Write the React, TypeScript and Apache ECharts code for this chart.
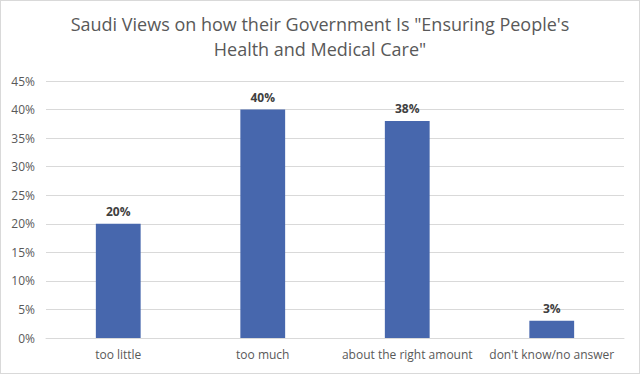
import React, { useEffect, useRef } from "react";
import * as echarts from "echarts";

const categories = ["too little", "too much", "about the right amount", "don't know/no answer"];
const values = [20, 40, 38, 3];
const titleLines = ["Saudi Views on how their Government Is \"Ensuring People's", "Health and Medical Care\""];

export default function App() {
  const ref = useRef<HTMLDivElement>(null);
  useEffect(() => {
    document.body.style.margin = "0";
    const chart = echarts.init(ref.current!, null, { renderer: "svg" });
    const font = "'Open Sans', 'Noto Sans', sans-serif";
    chart.setOption({
      animation: false,
      backgroundColor: "#ffffff",
      title: {
        text: titleLines.join("\n"),
        left: "center",
        top: 5,
        textStyle: { color: "#595959", fontSize: 18, fontWeight: "normal", fontFamily: font, lineHeight: 25 },
      },
      grid: { left: 45, right: 15, top: 80, bottom: 35, containLabel: false },
      xAxis: {
        type: "category",
        data: categories,
        axisLine: { lineStyle: { color: "#d9d9d9" } },
        axisTick: { show: false },
        axisLabel: { color: "#595959", fontSize: 12, fontFamily: font, margin: 10, interval: 0 },
      },
      yAxis: {
        type: "value",
        min: 0,
        max: 45,
        interval: 5,
        axisLine: { show: false },
        axisTick: { show: false },
        splitLine: { lineStyle: { color: "#d9d9d9" } },
        axisLabel: { color: "#595959", fontSize: 12, fontFamily: font, formatter: "{value}%", margin: 11 },
      },
      series: [
        {
          type: "bar",
          data: values,
          barWidth: "31%",
          itemStyle: { color: "#4767AD" },
          label: {
            show: true,
            position: "top",
            formatter: "{c}%",
            color: "#404040",
            fontWeight: "bold",
            fontSize: 12,
            fontFamily: font,
            distance: 6,
          },
        },
      ],
    });
    return () => chart.dispose();
  }, []);
  return (
    <div style={{ width: 640, height: 374, boxSizing: "border-box", border: "1px solid #d9d9d9", background: "#fff" }}>
      <div ref={ref} style={{ width: 638, height: 372 }} />
    </div>
  );
}
